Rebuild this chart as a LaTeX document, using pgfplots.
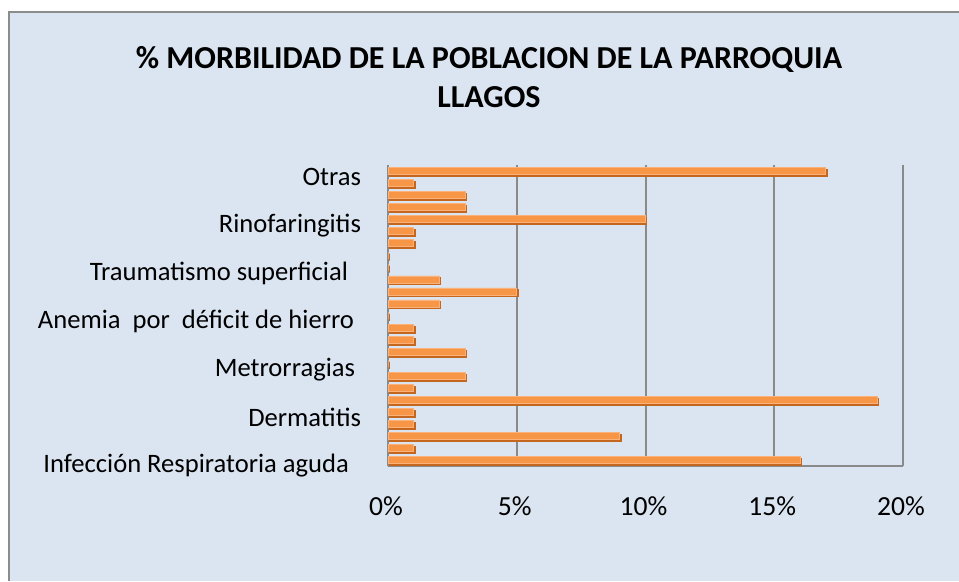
\documentclass[border=0pt]{standalone}
\usepackage{fontspec}
\setmainfont{Carlito}
\usepackage{pgfplots}
\pgfplotsset{compat=1.18}

\definecolor{bgblue}{HTML}{DBE5F1}
\definecolor{framegray}{HTML}{8C8C8C}
\definecolor{gridgray}{HTML}{8A8A8A}
\definecolor{barorange}{HTML}{F79646}
\definecolor{barlight}{HTML}{FAB27A}
\definecolor{bardark}{HTML}{C4661E}

\begin{document}
\begin{tikzpicture}[x=1bp,y=1bp]
\path[use as bounding box] (0,0) rectangle (479.5,290.5);
\fill[bgblue] (4.5,0) rectangle (479.5,284.5);
\draw[framegray, line width=0.8bp] (4.5,0) -- (4.5,284.5) -- (479.5,284.5);

\node[font=\bfseries\fontsize{16bp}{19.5bp}\selectfont, align=center] at (244.5,252)
  {\% MORBILIDAD DE LA POBLACION DE LA PARROQUIA\\LLAGOS};

\begin{axis}[
    at={(194bp,57.5bp)}, anchor=south west,
    scale only axis,
    width=257.5bp, height=150.5bp,
    xbar, bar width=3.5bp,
    xmin=0, xmax=20,
    ymin=-0.5, ymax=24.5,
    xtick={0,5,10,15,20},
    xticklabels={0\%,5\%,10\%,15\%,20\%},
    ytick={0,4,8,12,16,20,24},
    yticklabels={Infección Respiratoria aguda\rule{6bp}{0pt},
                 Dermatitis,
                 Metrorragias\rule{3bp}{0pt},
                 Anemia\ \ por\ \ déficit de hierro\rule{3.5bp}{0pt},
                 Traumatismo superficial\rule{6.5bp}{0pt},
                 Rinofaringitis,
                 Otras},
    major tick length=0pt,
    xmajorgrids,
    grid style={draw=gridgray, line width=1bp},
    axis x line*=bottom, axis y line*=left,
    axis line style={-, draw=gridgray, line width=1bp},
    yticklabel style={font=\fontsize{13.3bp}{16bp}\selectfont, xshift=-10bp, yshift=-3bp},
    xticklabel style={font=\fontsize{13.8bp}{16bp}\selectfont, yshift=-12bp, xshift=-1bp},
    clip=false,
]
\addplot[fill=barorange, draw=barlight, line width=0.3bp,
    preaction={fill=bardark, draw=bardark, line width=0.3bp,
               transform canvas={xshift=0.6bp, yshift=-0.9bp}}]
  coordinates {
    (16,0) (1,1) (9,2) (1,3) (1,4) (19,5) (1,6) (3,7) (0,8)
    (3,9) (1,10) (1,11) (0,12) (2,13) (5,14) (2,15) (0,16)
    (0,17) (1,18) (1,19) (10,20) (3,21) (3,22) (1,23) (17,24)
};
\end{axis}
\end{tikzpicture}
\end{document}
